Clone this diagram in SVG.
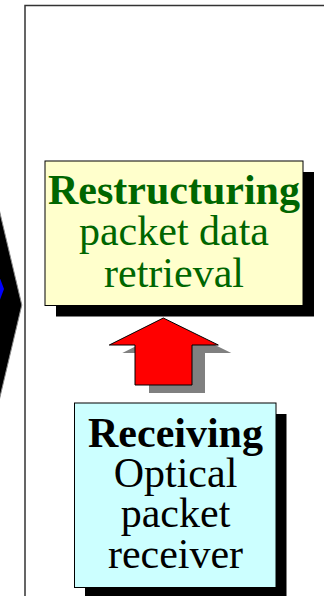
<svg xmlns="http://www.w3.org/2000/svg" width="324" height="596" viewBox="0 0 324 596">
  <style>
    .frame { fill: none; stroke: #333333; stroke-width: 1.5; }
    .shadow { fill: #000000; }
    .box { stroke: #000000; stroke-width: 1; }
    .yellow { fill: #ffffcc; }
    .cyan { fill: #ccffff; }
    .label { font-family: "Liberation Serif", "Times New Roman", serif; font-size: 42px; text-anchor: middle; }
    .title { font-weight: bold; }
    .green { fill: #006600; }
    .black { fill: #000000; }
  </style>

  <rect width="324" height="596" fill="#ffffff"/>

  <!-- neighbouring stage chevron, cut by the left edge -->
  <g id="chevron">
    <polygon points="-2,204.6 21.8,305 -2,405.4" fill="#000000" stroke="#8c8c8c" stroke-width="1"/>
    <polygon points="-2,273 4,289 -2,305" fill="#0000ff"/>
  </g>

  <!-- stage frame -->
  <path class="frame" d="M25,600 V5.5 H330"/>

  <g id="restructuring">
    <rect class="shadow" x="56" y="172" width="258" height="144.5"/>
    <rect class="box yellow" x="45" y="161" width="258" height="144.5"/>
    <text class="label title green" x="174" y="204">Restructuring</text>
    <text class="label green" x="174" y="245">packet data</text>
    <text class="label green" x="174" y="286.5">retrieval</text>
  </g>

  <g id="connectors">
    <polygon points="176.3,326 231.3,353 205,353 205,393 149,393 149,353 122.3,353" fill="#808080"/>
    <polygon points="163.3,318 218.3,345 192,345 192,385 135,385 135,345 109.3,345" fill="#ff0000" stroke="#000000" stroke-width="1" stroke-linejoin="miter"/>
  </g>

  <g id="receiving">
    <rect class="shadow" x="85" y="414" width="201.5" height="190"/>
    <rect class="box cyan" x="74.5" y="403" width="201.5" height="184.5"/>
    <text class="label title black" x="175.5" y="446.5">Receiving</text>
    <text class="label black" x="175.5" y="486.5">Optical</text>
    <text class="label black" x="175.5" y="526.5">packet</text>
    <text class="label black" x="175.5" y="568">receiver</text>
  </g>
</svg>
